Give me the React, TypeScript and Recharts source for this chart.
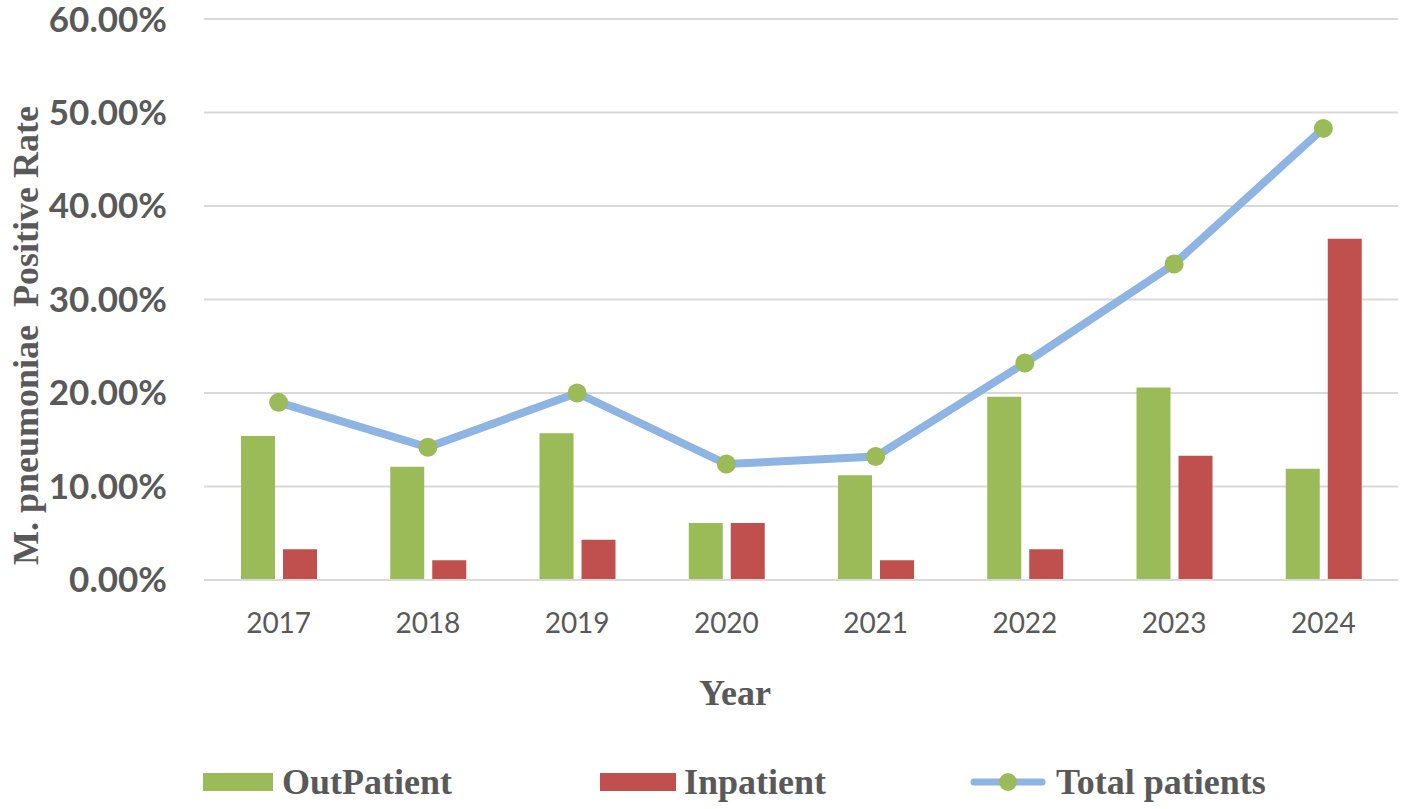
import { ComposedChart, Bar, Line, XAxis, YAxis, CartesianGrid, Legend } from "recharts";

const years = ["2017", "2018", "2019", "2020", "2021", "2022", "2023", "2024"];
const outPatient = [15.4, 12.1, 15.7, 6.1, 11.2, 19.6, 20.6, 11.9];
const inPatient = [3.3, 2.1, 4.3, 6.1, 2.1, 3.3, 13.3, 36.5];
const totalPatients = [19.0, 14.2, 20.0, 12.4, 13.2, 23.2, 33.8, 48.3];
const yTicks = [0, 10, 20, 30, 40, 50, 60];

const data = years.map((year, i) => ({
  year,
  outPatient: outPatient[i],
  inPatient: inPatient[i],
  total: totalPatients[i],
}));

const TEXT = "#595959";
const GREEN = "#9BBB59";
const RED = "#C0504D";
const BLUE = "#8DB4E2";
const GRID = "#D9D9D9";
const SERIF = '"Liberation Serif", "Times New Roman", serif';
const SANS = 'Lato, "Open Sans", sans-serif';

function YearLabel({ viewBox }: any) {
  const { x, y, width } = viewBox;
  return (
    <text
      x={x + width / 2 - 66}
      y={y + 125}
      textAnchor="middle"
      fill={TEXT}
      fontFamily={SERIF}
      fontWeight={700}
      fontSize={36}
    >
      Year
    </text>
  );
}

function RateLabel({ viewBox }: any) {
  const cx = viewBox.x + 26;
  const cy = viewBox.y + viewBox.height / 2 + 36;
  return (
    <text
      x={cx}
      y={cy}
      transform={`rotate(-90 ${cx} ${cy})`}
      textAnchor="middle"
      dominantBaseline="central"
      fill={TEXT}
      fontFamily={SERIF}
      fontWeight={700}
      fontSize={36}
      style={{ whiteSpace: "pre" }}
    >
      {"M. pneumoniae  Positive Rate"}
    </text>
  );
}

function ChartLegend() {
  const text = { fontFamily: SERIF, fontWeight: 700, fontSize: 36, color: TEXT, lineHeight: "40px" };
  return (
    <div style={{ display: "flex", alignItems: "center", height: 40, paddingLeft: 203 }}>
      <div style={{ display: "flex", alignItems: "center", width: 397 }}>
        <div style={{ width: 70, height: 18, background: GREEN, marginRight: 9 }} />
        <span style={text}>OutPatient</span>
      </div>
      <div style={{ display: "flex", alignItems: "center", width: 370 }}>
        <div style={{ width: 76, height: 18, background: RED, marginRight: 8 }} />
        <span style={text}>Inpatient</span>
      </div>
      <div style={{ display: "flex", alignItems: "center" }}>
        <svg width={76} height={24} style={{ marginRight: 10 }}>
          <line x1={4} y1={12} x2={72} y2={12} stroke={BLUE} strokeWidth={7} strokeLinecap="round" />
          <circle cx={38} cy={12} r={9} fill={GREEN} />
        </svg>
        <span style={text}>Total patients</span>
      </div>
    </div>
  );
}

export default function App() {
  return (
    <div style={{ position: "absolute", left: 0, top: 0, background: "#fff" }}>
      <ComposedChart
        width={1408}
        height={809}
        data={data}
        margin={{ top: 19, right: 10, bottom: 7, left: 0 }}
        barGap={8}
      >
        <CartesianGrid stroke={GRID} strokeWidth={2} vertical={false} />
        <XAxis
          dataKey="year"
          height={182}
          axisLine={{ stroke: GRID, strokeWidth: 2 }}
          tickLine={false}
          tickSize={0}
          tickMargin={33}
          tick={{ fill: TEXT, fontSize: 28, fontFamily: SANS }}
          label={<YearLabel />}
        />
        <YAxis
          width={204}
          domain={[0, 60]}
          ticks={yTicks}
          axisLine={false}
          tickLine={false}
          tickSize={0}
          tickMargin={37}
          tickFormatter={(v: number) => `${v.toFixed(2)}%`}
          tick={{ fill: TEXT, fontSize: 35, fontFamily: SANS, fontWeight: 700 }}
          label={<RateLabel />}
        />
        <Legend verticalAlign="bottom" content={<ChartLegend />} wrapperStyle={{ left: 0, width: 1408 }} />
        <Bar dataKey="outPatient" name="OutPatient" fill={GREEN} barSize={34} isAnimationActive={false} />
        <Bar dataKey="inPatient" name="Inpatient" fill={RED} barSize={34} isAnimationActive={false} />
        <Line
          dataKey="total"
          name="Total patients"
          stroke={BLUE}
          strokeWidth={8}
          dot={{ r: 9.5, fill: GREEN, stroke: "none" }}
          activeDot={false}
          isAnimationActive={false}
        />
      </ComposedChart>
    </div>
  );
}
